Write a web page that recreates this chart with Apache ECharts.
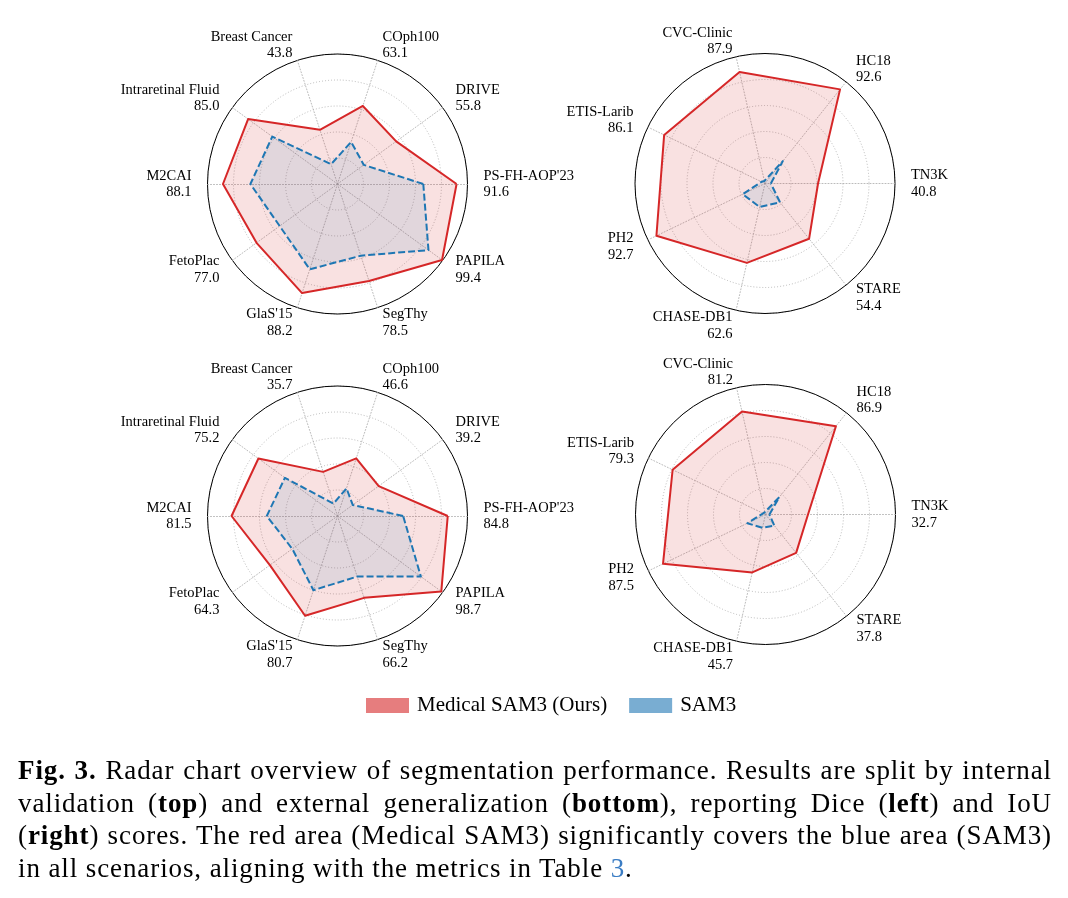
<!DOCTYPE html>
<html>
<head>
<meta charset="utf-8">
<script src="https://cdn.jsdelivr.net/npm/echarts@6/dist/echarts.min.js"></script>
<style>
  html, body { margin: 0; padding: 0; background: #fff; }
  #chart { position: absolute; left: 0; top: 0; width: 1068px; height: 898px; }
  #caption {
    position: absolute; left: 18px; top: 754px; width: 1034px;
    font-family: 'Liberation Serif', serif; font-size: 27px; line-height: 32.5px;
    letter-spacing: 0.9px; color: #000;
  }
  #caption .j { text-align: justify; text-align-last: justify; }
  #caption .ref { color: #3b7dc4; }
</style>
</head>
<body>
<div id="chart"></div>
<div id="caption">
  <div class="j"><b>Fig. 3.</b> Radar chart overview of segmentation performance. Results are split by internal</div>
  <div class="j">validation (<b>top</b>) and external generalization (<b>bottom</b>), reporting Dice (<b>left</b>) and IoU</div>
  <div class="j">(<b>right</b>) scores. The red area (Medical SAM3) significantly covers the blue area (SAM3)</div>
  <div>in all scenarios, aligning with the metrics in Table <span class="ref">3</span>.</div>
</div>
<script>
// axes, counter-clockwise starting from the right
const leftAxes = ["PS-FH-AOP'23", 'DRIVE', 'COph100', 'Breast Cancer', 'Intraretinal Fluid',
                  'M2CAI', 'FetoPlac', "GlaS'15", 'SegThy', 'PAPILA'];
const rightAxes = ['TN3K', 'HC18', 'CVC-Clinic', 'ETIS-Larib', 'PH2', 'CHASE-DB1', 'STARE'];

// top row (internal validation)
const oursTopLeft = [91.6, 55.8, 63.1, 43.8, 85.0, 88.1, 77.0, 88.2, 78.5, 99.4];
const sam3TopLeft = [66, 25, 34, 16, 62, 67, 55, 69, 58, 86.5];
const oursTopRight = [40.8, 92.6, 87.9, 86.1, 92.7, 62.6, 54.4];
const sam3TopRight = [4.5, 22, 2, 3, 19, 18.5, 18.5];

// bottom row (external generalization)
const oursBottomLeft = [84.8, 39.2, 46.6, 35.7, 75.2, 81.5, 64.3, 80.7, 66.2, 98.7];
const sam3BottomLeft = [50.5, 14.5, 22.4, 10, 50, 54.4, 43, 60, 49, 79.3];
const oursBottomRight = [32.7, 86.9, 81.2, 79.3, 87.5, 45.7, 37.8];
const sam3BottomRight = [3, 17, 2, 2, 15.5, 10.5, 11];

const RED = '#d62728';
const BLUE = '#1f77b4';
const SERIF = 'Liberation Serif';
const R = 130;

const chart = echarts.init(document.getElementById('chart'));

const gridRadar = (names, ours, center) => ({
    center: center,
    radius: R,
    startAngle: 0,
    shape: 'circle',
    splitNumber: 5,
    indicator: names.map(n => ({ name: n, min: 0, max: 100 })),
    nameGap: 16,
    axisName: {
        color: '#000',
        fontFamily: SERIF,
        fontSize: 14.5,
        lineHeight: 16.5,
        formatter: name => name + '\n' + ours[names.indexOf(name)].toFixed(1)
    },
    axisLine: { lineStyle: { color: '#aaa', width: 0.8, type: [1, 2] } },
    splitLine: { lineStyle: { color: '#aaa', width: 0.8, type: [1, 2] } },
    splitArea: { show: false },
    axisTick: { show: false },
    axisLabel: { show: false }
});

// solid outer circle
const ringRadar = (names, center) => ({
    center: center,
    radius: R,
    startAngle: 0,
    shape: 'circle',
    splitNumber: 1,
    indicator: names.map(n => ({ name: n, min: 0, max: 100 })),
    axisName: { show: false },
    axisLine: { show: false },
    splitLine: { lineStyle: { color: '#000', width: 1 } },
    splitArea: { show: false },
    axisTick: { show: false },
    axisLabel: { show: false }
});

const radarSeries = (idx, ours, sam3) => ({
    type: 'radar',
    radarIndex: idx,
    symbol: 'none',
    silent: true,
    data: [
        {
            name: 'Medical SAM3 (Ours)',
            value: ours,
            itemStyle: { color: RED },
            lineStyle: { color: RED, width: 2 },
            areaStyle: { color: 'rgba(214,39,40,0.2)' }
        },
        {
            name: 'SAM3',
            value: sam3,
            itemStyle: { color: BLUE },
            lineStyle: { color: BLUE, width: 2, type: [7, 3] },
            areaStyle: { color: 'rgba(31,119,180,0.15)' }
        }
    ]
});

const cTL = [337.5, 184], cTR = [765, 183.5], cBL = [337.5, 516], cBR = [765.5, 514.5];

const option = {
    backgroundColor: '#fff',
    animation: false,
    legend: {
        left: 366,
        top: 695,
        padding: 0,
        icon: 'rect',
        itemWidth: 43,
        itemHeight: 15,
        itemGap: 22,
        selectedMode: false,
        textStyle: { fontFamily: SERIF, fontSize: 21, color: '#000', padding: [0, 0, 0, 3] },
        data: [
            { name: 'Medical SAM3 (Ours)', itemStyle: { color: 'rgba(214,39,40,0.6)', borderWidth: 0 } },
            { name: 'SAM3', itemStyle: { color: 'rgba(31,119,180,0.6)', borderWidth: 0 } }
        ]
    },
    radar: [
        gridRadar(leftAxes, oursTopLeft, cTL),
        gridRadar(rightAxes, oursTopRight, cTR),
        gridRadar(leftAxes, oursBottomLeft, cBL),
        gridRadar(rightAxes, oursBottomRight, cBR),
        ringRadar(leftAxes, cTL),
        ringRadar(rightAxes, cTR),
        ringRadar(leftAxes, cBL),
        ringRadar(rightAxes, cBR)
    ],
    series: [
        radarSeries(0, oursTopLeft, sam3TopLeft),
        radarSeries(1, oursTopRight, sam3TopRight),
        radarSeries(2, oursBottomLeft, sam3BottomLeft),
        radarSeries(3, oursBottomRight, sam3BottomRight)
    ]
};

chart.setOption(option);
</script>
</body>
</html>
